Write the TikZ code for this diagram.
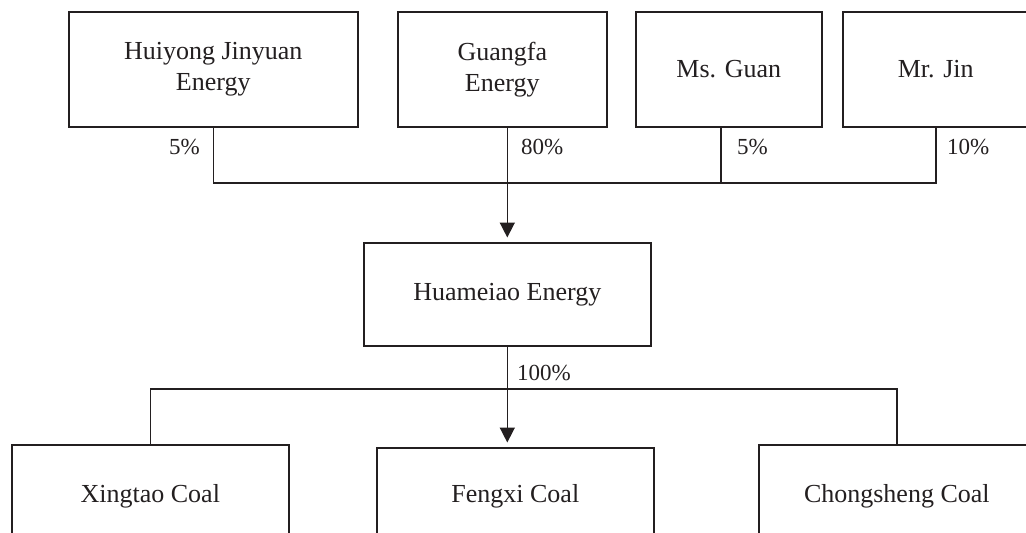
\documentclass[tikz,border=0pt]{standalone}
\usepackage{fontspec}
\setmainfont{Liberation Serif}
\usetikzlibrary{arrows.meta}
\definecolor{ink}{HTML}{231F20}
\begin{document}
\begin{tikzpicture}[x=1pt,y=-1pt,
  box/.style={draw=ink, text=ink, line width=1.6pt, inner sep=0pt, anchor=north west, align=center,
    font=\fontsize{26}{31}\selectfont},
  pct/.style={inner sep=0pt, text=ink, font=\fontsize{23}{27}\selectfont},
  link/.style={draw=ink, line width=1.6pt},
  arr/.style={link, -{Triangle[length=15pt,width=15pt]}, shorten >=4.5pt}]
\useasboundingbox (0,0) rectangle (1026,533);
\clip (0,0) rectangle (1026,533);
% top row
\node[box, minimum width=289pt, minimum height=115pt] (hj) at (68,11) {Huiyong Jinyuan\\Energy};
\node[box, minimum width=209pt, minimum height=115pt] (gf) at (397,11) {Guangfa\\Energy};
\node[box, minimum width=186pt, minimum height=115pt] (mg) at (635,11) {Ms. Guan};
\node[box, minimum width=186pt, minimum height=115pt] (mj) at (842,11) {Mr. Jin};
% middle
\node[box, minimum width=287pt, minimum height=103pt] (hm) at (363,242) {Huameiao Energy};
% bottom row
\node[box, minimum width=277pt, minimum height=103pt] (xt) at (11,444) {Xingtao Coal};
\node[box, minimum width=277pt, minimum height=97pt] (fx) at (376,447) {Fengxi Coal};
\node[box, minimum width=276pt, minimum height=103pt] (cs) at (758,444) {Chongsheng Coal};
% buses
\coordinate (busA) at (0,183);
\coordinate (busB) at (0,389);
\draw[link] (hj.south) |- (busA -| mj.south) -- (mj.south);
\draw[link] ([xshift=-8pt]mg.south) -- ([xshift=-8pt]mg.south |- busA);
\draw[arr] (gf.south -| hm.north) -- (hm.north);
\draw[link] (xt.north) |- (busB -| cs.north) -- (cs.north);
\draw[arr] (hm.south) -- (hm.south |- fx.north);
% percentages
\node[pct, anchor=east] (p1) at (200,147) {5\%};
\node[pct, anchor=west] (p2) at (521,147) {80\%};
\node[pct, anchor=west] (p3) at (737,147) {5\%};
\node[pct, anchor=west] (p4) at (947,147) {10\%};
\node[pct, anchor=west] (p5) at (517,373) {100\%};
\end{tikzpicture}
\end{document}
